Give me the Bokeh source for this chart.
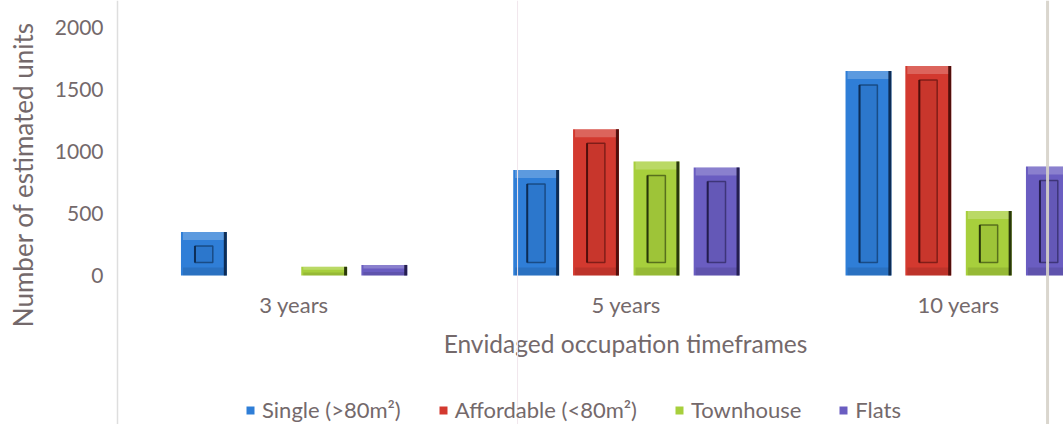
import math
from bokeh.plotting import figure
from bokeh.models import Range1d, FixedTicker, Span, Legend, LegendItem, Label
from bokeh.embed import file_html
from bokeh.resources import INLINE

# ---- data -------------------------------------------------------------
categories = ["3 years", "5 years", "10 years"]
series_names = ["Single (>80m²)", "Affordable (<80m²)", "Townhouse", "Flats"]
single = [350, 850, 1650]
affordable = [0, 1180, 1690]
townhouse = [70, 920, 520]
flats = [85, 870, 880]
y_ticks = [0, 500, 1000, 1500, 2000]

x_title = "Envidaged occupation timeframes"
y_title = "Number of estimated units"

# ---- styling ----------------------------------------------------------
FONT = "Lato"
TEXT = "#74696b"
fills = ["#2f7ed7", "#d3392f", "#a7cf3c", "#6a5dc1"]
edges = ["#0a2447", "#420a08", "#1c2706", "#1d1742"]
offsets = [-0.271, -0.091, 0.091, 0.272]
BAR_W = 0.138

W, H = 1063, 424
LEFT = 117            # pixel column of the value axis
# plotting area (right of the value axis) in data units
X0, X1 = -0.031, 2.816
Y0, Y1 = -1202, 2218
UX = (X1 - X0) / (W - LEFT)
UY = (Y1 - Y0) / H

# the frame spans the whole canvas; the value axis sits inside it at X0
p = figure(width=W, height=H, output_backend="svg", toolbar_location=None,
           x_range=Range1d(X0 - LEFT * UX, X1), y_range=Range1d(Y0, Y1),
           min_border=0, background_fill_color="white",
           border_fill_color="white", outline_line_color=None)
p.grid.visible = False

# ---- axes -------------------------------------------------------------
yax = p.yaxis[0]
yax.fixed_location = X0
yax.ticker = FixedTicker(ticks=y_ticks)
yax.major_tick_line_color = None
yax.minor_tick_line_color = None
yax.axis_line_color = "#dedede"
yax.axis_line_width = 1.5
yax.major_label_standoff = 8
yax.major_label_text_font = FONT
yax.major_label_text_font_size = "21px"
yax.major_label_text_color = TEXT

xax = p.xaxis[0]
xax.fixed_location = 0
xax.ticker = FixedTicker(ticks=[i + 0.5 for i in range(len(categories))])
xax.major_label_overrides = {i + 0.5: c for i, c in enumerate(categories)}
xax.major_tick_line_color = None
xax.minor_tick_line_color = None
xax.axis_line_color = None
xax.major_label_standoff = 10
xax.major_label_text_font = FONT
xax.major_label_text_font_size = "22px"
xax.major_label_text_color = TEXT

# axis titles in screen pixels
p.add_layout(Label(x=22, y=H - 174, x_units="screen", y_units="screen",
                   text=y_title, angle=math.pi / 2, text_align="center",
                   text_baseline="middle", text_font=FONT,
                   text_font_size="26px", text_color=TEXT))
p.add_layout(Label(x=625, y=H - 343, x_units="screen",
                   y_units="screen", text=x_title, text_align="center",
                   text_baseline="middle", text_font=FONT,
                   text_font_size="24.5px", text_color=TEXT))

# faint vertical rules
p.add_layout(Span(location=1.173, dimension="height", line_color="#f1e6ec",
                  line_width=1))

# ---- bevelled bars ----------------------------------------------------
values = [single, affordable, townhouse, flats]
legend_items = []
for k, vals in enumerate(values):
    xs = [i + 0.5 + offsets[k] for i in range(len(vals))]
    main = p.vbar(x=xs, top=vals, bottom=0, width=BAR_W,
                  fill_color=fills[k], line_color=None)
    legend_items.append(LegendItem(label=series_names[k], renderers=[main]))

    pos = [(x, v) for x, v in zip(xs, vals) if v > 0]
    px = [x for x, _ in pos]
    pv = [v for _, v in pos]
    bev = [min(8 * UY, v / 3) for v in pv]
    # light top bevel, softer bottom bevel
    p.vbar(x=px, top=pv, bottom=[v - b for v, b in zip(pv, bev)],
           width=BAR_W - 4 * UX, fill_color="white", fill_alpha=0.22,
           line_color=None)
    p.vbar(x=px, top=bev, bottom=0, width=BAR_W - 4 * UX,
           fill_color="black", fill_alpha=0.10, line_color=None)
    # dark right edge
    p.vbar(x=[x + BAR_W / 2 - 1.5 * UX for x in px], top=pv, bottom=0,
           width=3 * UX, fill_color=edges[k], fill_alpha=0.9, line_color=None)
    # recessed inner panel
    inner = [(x, v) for x, v in pos if v > 34 * UY]
    if inner:
        ix = [x for x, _ in inner]
        iv = [v for _, v in inner]
        p.vbar(x=ix, top=[v - 14 * UY for v in iv], bottom=13 * UY,
               width=BAR_W - 28 * UX, fill_color="black", fill_alpha=0.05,
               line_color=edges[k], line_alpha=0.55, line_width=1.5)
        p.vbar(x=[x - (BAR_W - 28 * UX) / 2 for x in ix],
               top=[v - 14 * UY for v in iv], bottom=13 * UY, width=2 * UX,
               fill_color=edges[k], fill_alpha=0.8, line_color=None)

p.add_layout(Span(location=2.768, dimension="height", line_color="#d6d1c9",
                  line_width=3, line_alpha=0.9))

legend = Legend(items=legend_items, orientation="horizontal", location=(245, 1),
                spacing=37, label_standoff=7, glyph_width=10, glyph_height=10,
                label_height=24, padding=0, margin=0, border_line_color=None,
                background_fill_alpha=0, label_text_font=FONT,
                label_text_font_size="22px", label_text_color=TEXT)
p.add_layout(legend)

open("out.html", "w").write(file_html(p, INLINE))
